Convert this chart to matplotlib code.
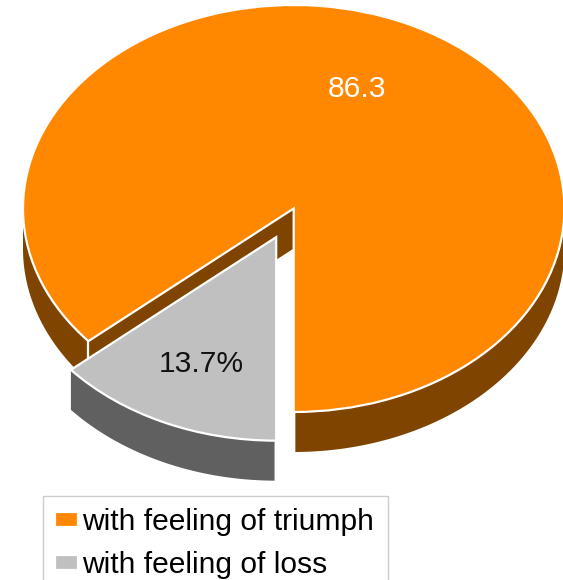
import numpy as np
import matplotlib
matplotlib.use("Agg")
import matplotlib.pyplot as plt
from matplotlib.patches import Polygon

plt.rcParams['font.family'] = ['Liberation Sans', 'DejaVu Sans']

categories = ["with feeling of triumph", "with feeling of loss"]
values = [86.3, 13.7]
value_labels = ["86.3", "13.7%"]
top_colors = ["#ff8800", "#c0c0c0"]
side_colors = ["#7f4400", "#606060"]
label_colors = ["white", "#111111"]

W, H = 563, 580
CX, CY, RX, RY = 293.7, 208.5, 270.7, 203.5
DEPTH = 40.0 / RY
EXPLODE = [0.0, 0.155]
WALL_INSET = 0.35  # degrees trimmed off a wall where it meets a straight cut

fig = plt.figure(figsize=(W / 100, H / 100), dpi=100, facecolor="white")
ax = fig.add_axes([0, 0, 1, 1])

wedges, _ = ax.pie(
    values,
    colors=top_colors,
    startangle=-90,
    explode=EXPLODE,
    wedgeprops=dict(edgecolor="white", linewidth=1.6, zorder=5),
)
ax.set_aspect("auto")
# one data unit is the pie radius, stretched into an ellipse for the tilted view
ax.set_xlim((0 - CX) / RX, (W - CX) / RX)
ax.set_ylim((CY - H) / RY, CY / RY)
ax.axis("off")


def rim(center, t):
    rad = np.radians(t)
    return np.column_stack((center[0] + np.cos(rad), center[1] + np.sin(rad)))


def add_wall(wedge, color, t0, t1):
    """Extrude the outer rim between two angles downward."""
    t = np.linspace(t0, t1, 160)
    upper = rim(wedge.center, t)
    lower = upper - [0, DEPTH]
    ax.add_patch(Polygon(np.vstack((upper, lower[::-1])), closed=True,
                         facecolor=color, edgecolor="none", zorder=2))


main, loss = wedges

# front-facing rim of the large slice, both sides of the cut
add_wall(main, side_colors[0], main.theta1 + WALL_INSET, 0)
add_wall(main, side_colors[0], 180, main.theta2)

# inner cut face of the large slice, seen behind the detached piece
edge = rim(main.center, [main.theta2])[0]
cx, cy = main.center
ax.add_patch(Polygon([(cx, cy), edge, edge - [0, DEPTH], (cx, cy - DEPTH)], closed=True,
                     facecolor=side_colors[0], edgecolor="none", zorder=2))
ax.plot([edge[0], edge[0]], [edge[1], edge[1] - DEPTH], color="white", lw=1.6, zorder=3)

# rim of the detached slice
add_wall(loss, side_colors[1], loss.theta1, loss.theta2 - WALL_INSET)

ax.text((357 - CX) / RX, (CY - 89) / RY, value_labels[0], color=label_colors[0],
        fontsize=21.6, ha="center", va="center", zorder=6)
ax.text((201 - CX) / RX, (CY - 364) / RY, value_labels[1], color=label_colors[1],
        fontsize=21.6, ha="center", va="center", zorder=6)

legend = ax.legend(
    wedges, categories,
    loc="upper left",
    bbox_to_anchor=(43 / W, 1 - 496 / H, 345 / W, 0),
    bbox_transform=fig.transFigure,
    mode="expand",
    fontsize=21.6,
    frameon=True,
    fancybox=False,
    framealpha=1,
    edgecolor="#cccccc",
    borderaxespad=0,
    borderpad=0.4,
    labelspacing=0.5,
    handlelength=0.75,
    handleheight=0.42,
    handletextpad=0.15,
)
legend.get_frame().set_linewidth(1.0)
legend.set_zorder(7)

fig.savefig("out.png", dpi=100)
